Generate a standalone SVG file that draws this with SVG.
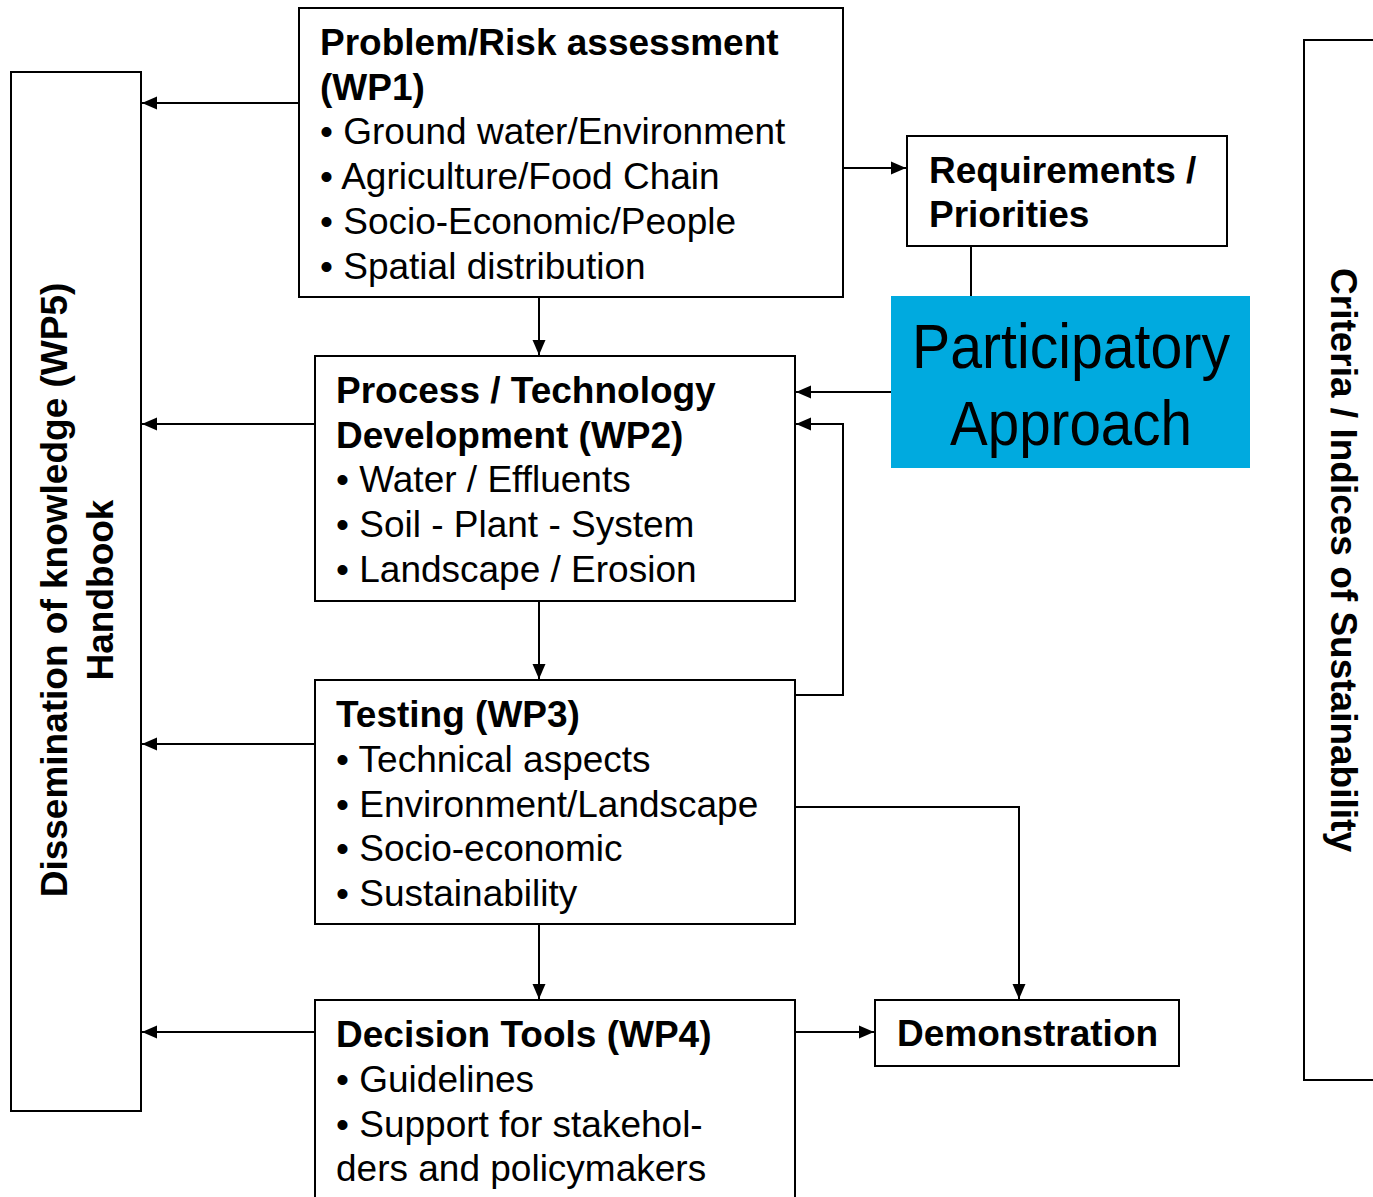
<svg xmlns="http://www.w3.org/2000/svg" width="1373" height="1197" viewBox="0 0 1373 1197">
<style>
.box{fill:#fff;stroke:#000;stroke-width:2}
.t{font-family:"Liberation Sans",Arial,sans-serif;font-size:37px;fill:#000}
.b{font-weight:bold}
.c{fill:none;stroke:#000;stroke-width:2}
</style>
<defs>
<marker id="ah" markerUnits="userSpaceOnUse" markerWidth="17" markerHeight="15" refX="16" refY="7.5" orient="auto">
<path d="M1,1 L16,7.5 L1,14 z" fill="#000"/>
</marker>
</defs>
<rect width="1373" height="1197" fill="#fff"/>

<g id="connectors">
<line class="c" x1="299" y1="103" x2="142" y2="103" marker-end="url(#ah)"/>
<line class="c" x1="315" y1="424" x2="142" y2="424" marker-end="url(#ah)"/>
<line class="c" x1="315" y1="744" x2="142" y2="744" marker-end="url(#ah)"/>
<line class="c" x1="315" y1="1032" x2="142" y2="1032" marker-end="url(#ah)"/>
<line class="c" x1="843" y1="168" x2="906" y2="168" marker-end="url(#ah)"/>
<line class="c" x1="539" y1="297" x2="539" y2="355" marker-end="url(#ah)"/>
<line class="c" x1="539" y1="601" x2="539" y2="679" marker-end="url(#ah)"/>
<line class="c" x1="539" y1="920" x2="539" y2="999" marker-end="url(#ah)"/>
<line class="c" x1="971" y1="246" x2="971" y2="296"/>
<line class="c" x1="891" y1="392" x2="796" y2="392" marker-end="url(#ah)"/>
<polyline class="c" points="795,695 843,695 843,424 796,424" marker-end="url(#ah)"/>
<polyline class="c" points="795,807 1019,807 1019,999" marker-end="url(#ah)"/>
<line class="c" x1="795" y1="1032" x2="874" y2="1032" marker-end="url(#ah)"/>
</g>

<g id="wp5">
<rect class="box" x="11" y="72" width="130" height="1039"/>
<text class="t b" text-anchor="middle" transform="translate(67,590) rotate(-90)">Dissemination of knowledge (WP5)</text>
<text class="t b" text-anchor="middle" transform="translate(113,590) rotate(-90)">Handbook</text>
</g>

<g id="criteria">
<path class="c" d="M1380,40 L1304,40 L1304,1080 L1380,1080"/>
<text class="t b" text-anchor="middle" transform="translate(1331,560) rotate(90)">Criteria / Indices of Sustainability</text>
</g>

<g id="wp1">
<rect class="box" x="299" y="8" width="544" height="289"/>
<text class="t b" x="320" y="55">Problem/Risk assessment</text>
<text class="t b" x="320" y="100">(WP1)</text>
<text class="t" x="320" y="144">• Ground water/Environment</text>
<text class="t" x="320" y="189">• Agriculture/Food Chain</text>
<text class="t" x="320" y="234">• Socio-Economic/People</text>
<text class="t" x="320" y="279">• Spatial distribution</text>
</g>

<g id="requirements">
<rect class="box" x="907" y="136" width="320" height="110"/>
<text class="t b" x="929" y="183">Requirements /</text>
<text class="t b" x="929" y="227">Priorities</text>
</g>

<g id="participatory">
<rect x="891" y="296" width="359" height="172" fill="#00AADF"/>
<text class="t" style="font-size:63px" x="912" y="368" textLength="318" lengthAdjust="spacingAndGlyphs">Participatory</text>
<text class="t" style="font-size:63px" x="950" y="445" textLength="242" lengthAdjust="spacingAndGlyphs">Approach</text>
</g>

<g id="wp2">
<rect class="box" x="315" y="356" width="480" height="245"/>
<text class="t b" x="336" y="403">Process / Technology</text>
<text class="t b" x="336" y="448">Development (WP2)</text>
<text class="t" x="336" y="492">• Water / Effluents</text>
<text class="t" x="336" y="537">• Soil - Plant - System</text>
<text class="t" x="336" y="582">• Landscape / Erosion</text>
</g>

<g id="wp3">
<rect class="box" x="315" y="680" width="480" height="244"/>
<text class="t b" x="336" y="727">Testing (WP3)</text>
<text class="t" x="336" y="772">• Technical aspects</text>
<text class="t" x="336" y="817">• Environment/Landscape</text>
<text class="t" x="336" y="861">• Socio-economic</text>
<text class="t" x="336" y="906">• Sustainability</text>
</g>

<g id="wp4">
<rect class="box" x="315" y="1000" width="480" height="220"/>
<text class="t b" x="336" y="1047">Decision Tools (WP4)</text>
<text class="t" x="336" y="1092">• Guidelines</text>
<text class="t" x="336" y="1137">• Support for stakehol-</text>
<text class="t" x="336" y="1181">ders and policymakers</text>
</g>

<g id="demonstration">
<rect class="box" x="875" y="1000" width="304" height="66"/>
<text class="t b" x="897" y="1046">Demonstration</text>
</g>
</svg>
